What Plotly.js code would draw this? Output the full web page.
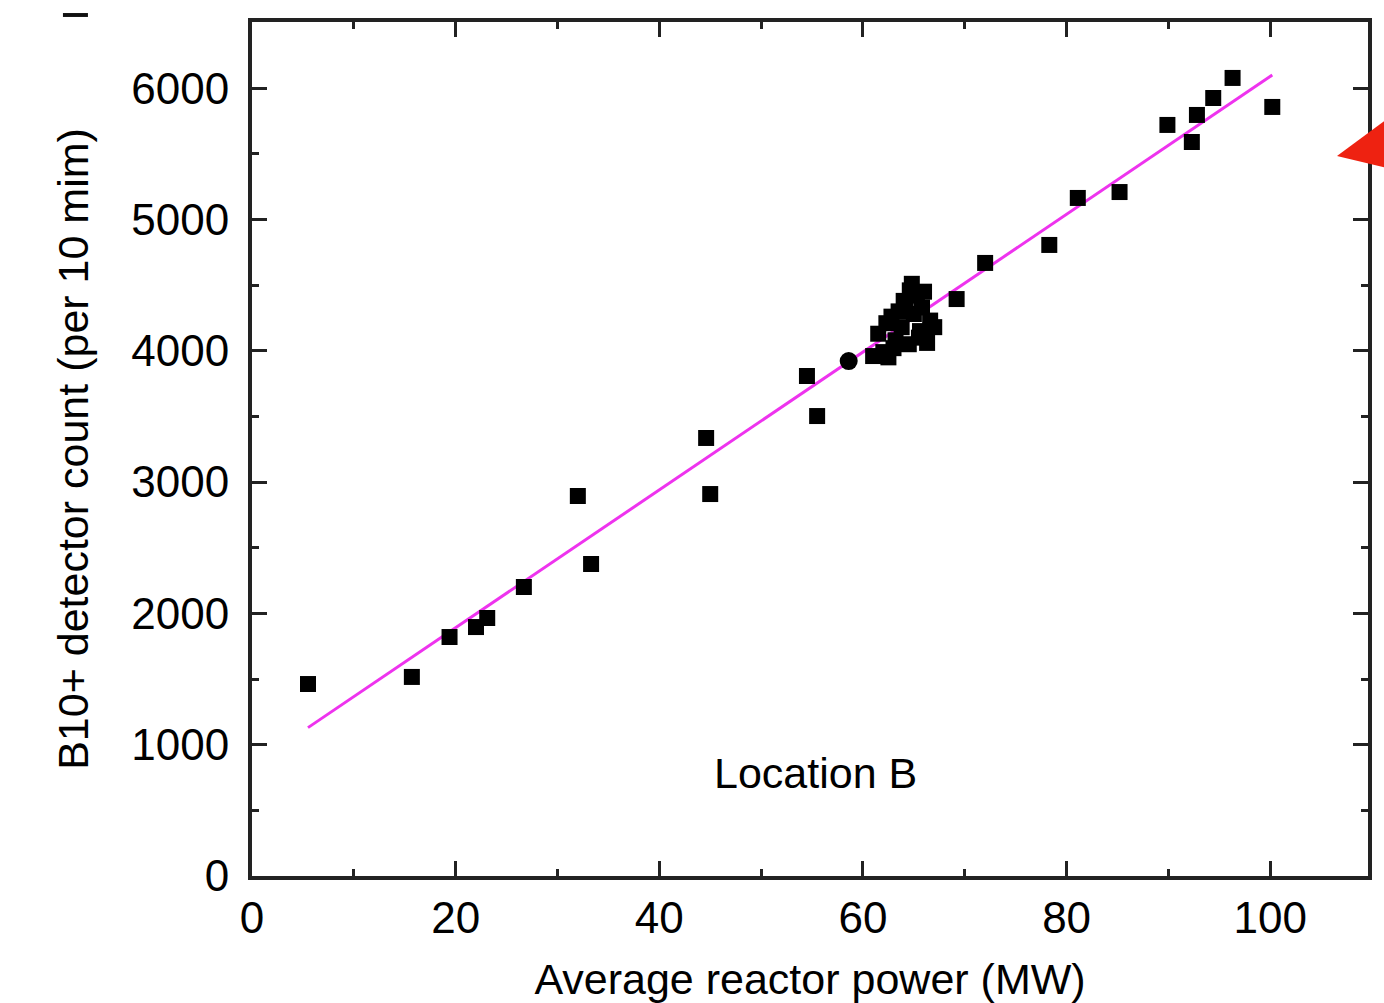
<!DOCTYPE html>
<html>
<head>
<meta charset="utf-8">
<script src="https://cdn.plot.ly/plotly-3.0.1.min.js"></script>
<style>html,body{margin:0;padding:0;background:#fff;}#chart{width:1384px;height:1003px;}</style>
</head>
<body>
<div id="chart"></div>
<script>
// Measured points (reactor power MW, detector count per 10 min)
const powerMW = [5.5, 15.7, 19.4, 22.0, 23.1, 26.7, 32.0, 33.3, 44.6, 45.0, 54.5, 55.5,
  61.0, 61.5, 62.0, 62.3, 62.8, 63.2, 63.5, 63.8, 64.2, 64.5, 64.8, 65.0, 65.3, 65.6, 66.0, 66.3, 66.6, 67.0, 62.5, 64.0, 65.5, 63.0, 64.6, 65.8,
  69.2, 72.0, 78.3, 81.1, 85.2, 89.9, 92.3, 92.8, 94.4, 96.3, 100.2];
const detectorCount = [1462, 1516, 1820, 1896, 1965, 2201, 2894, 2376, 3336, 2909, 3808, 3503,
  3960, 4130, 3990, 4210, 4260, 4080, 4300, 4180, 4350, 4050, 4510, 4280, 4420, 4150, 4450, 4060, 4230, 4180, 3950, 4380, 4100, 4020, 4460, 4330,
  4394, 4669, 4806, 5164, 5209, 5720, 5590, 5796, 5925, 6078, 5857];
// Single round point
const circlePower = [58.6];
const circleCount = [3922];
// Linear fit endpoints
const fitPower = [5.5, 100.2];
const fitCount = [1130, 6100];

const xTickVals = [0, 20, 40, 60, 80, 100];
const yTickVals = [0, 1000, 2000, 3000, 4000, 5000, 6000];
const annotationText = 'Location B';

const font = 'Liberation Sans, Arial, sans-serif';

const traces = [
  {x: fitPower, y: fitCount, mode: 'lines', type: 'scatter',
   line: {color: '#ee33ee', width: 3}, hoverinfo: 'skip'},
  {x: powerMW, y: detectorCount, mode: 'markers', type: 'scatter',
   marker: {symbol: 'square', size: 16, color: '#000'}},
  {x: circlePower, y: circleCount, mode: 'markers', type: 'scatter',
   marker: {symbol: 'circle', size: 18, color: '#000'}}
];

const axisCommon = {
  showgrid: false, zeroline: false, showline: true, linecolor: '#222', linewidth: 4,
  mirror: 'allticks', ticks: 'inside', ticklen: 15, tickwidth: 3, tickcolor: '#222',
  tickfont: {family: font, size: 44, color: '#000'}
};

const layout = {
  width: 1384, height: 1003,
  margin: {l: 252, r: 16, t: 22, b: 127},
  paper_bgcolor: '#fff', plot_bgcolor: '#fff',
  showlegend: false,
  xaxis: Object.assign({}, axisCommon, {
    range: [0, 109.6], tickvals: xTickVals, ticktext: xTickVals.map(String),
    ticklabelstandoff: 0,
    minor: {dtick: 10, tick0: 0, ticks: 'inside', ticklen: 7, tickwidth: 3, tickcolor: '#222'},
    title: {text: 'Average reactor power (MW)', font: {family: font, size: 43, color: '#000'}, standoff: 26}
  }),
  yaxis: Object.assign({}, axisCommon, {
    range: [0, 6504], tickvals: yTickVals, ticktext: yTickVals.map(String),
    ticklabelstandoff: 10,
    minor: {dtick: 500, tick0: 0, ticks: 'inside', ticklen: 7, tickwidth: 3, tickcolor: '#222'},
    title: {text: 'B10+ detector count (per 10 mim)', font: {family: font, size: 43, color: '#000'}, standoff: 30}
  }),
  annotations: [
    {x: 55.3, y: 784, xref: 'x', yref: 'y', text: annotationText, showarrow: false,
     font: {family: font, size: 43, color: '#000'}}
  ],
  shapes: [
    {type: 'path', xref: 'paper', yref: 'paper', path: 'M 0.9722 0.8431 L 1.03 0.8990 L 1.03 0.8250 Z',
     fillcolor: '#ee2211', line: {width: 0}},
    {type: 'rect', xref: 'paper', yref: 'paper', x0: -0.1694, x1: -0.147, y0: 1.0059, y1: 1.0105,
     fillcolor: '#111', line: {width: 0}}
  ]
};

Plotly.newPlot('chart', traces, layout, {displayModeBar: false, staticPlot: true});
</script>
</body>
</html>
